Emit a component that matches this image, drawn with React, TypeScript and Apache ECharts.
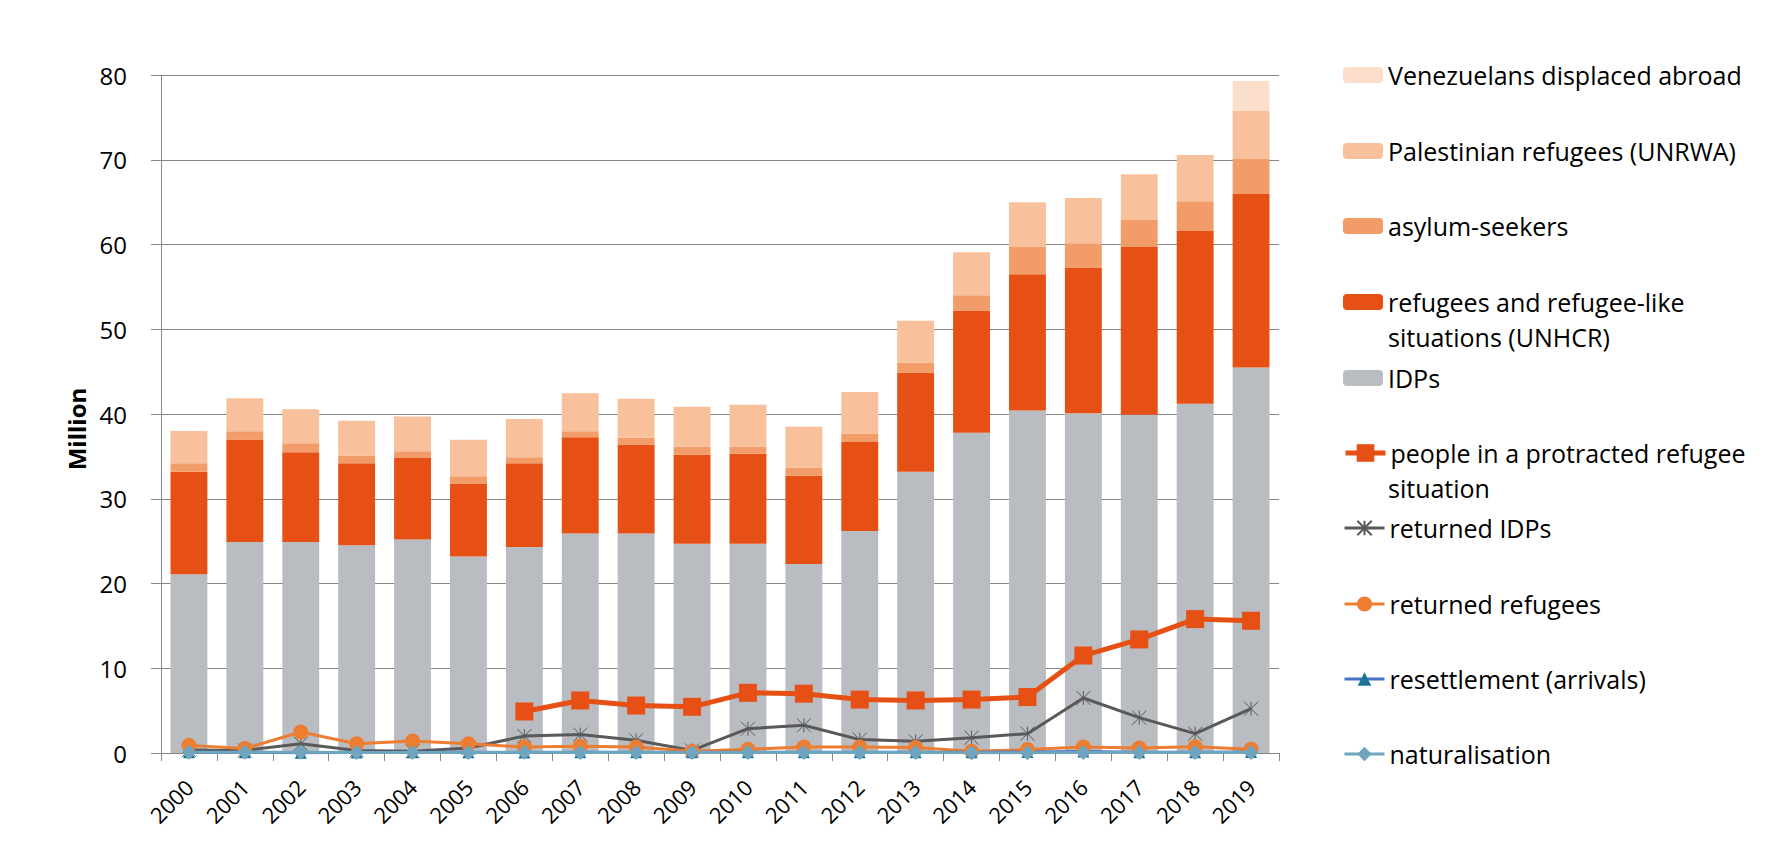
import React, { useEffect, useRef } from "react";
import * as echarts from "echarts";

const years = ["2000","2001","2002","2003","2004","2005","2006","2007","2008","2009","2010","2011","2012","2013","2014","2015","2016","2017","2018","2019"];
const yTicks = [0, 10, 20, 30, 40, 50, 60, 70, 80];

const idps = [21.1, 24.9, 24.9, 24.5, 25.2, 23.2, 24.3, 25.9, 25.9, 24.7, 24.7, 22.3, 26.2, 33.2, 37.8, 40.4, 40.1, 39.9, 41.2, 45.5];
const refugeesUnhcr = [12.1, 12.1, 10.6, 9.7, 9.6, 8.6, 9.9, 11.35, 10.5, 10.5, 10.6, 10.4, 10.5, 11.7, 14.4, 16.1, 17.2, 19.8, 20.4, 20.45];
const asylum = [1.0, 0.95, 1.06, 0.9, 0.8, 0.85, 0.7, 0.7, 0.8, 0.95, 0.85, 0.95, 0.95, 1.15, 1.8, 3.2, 2.85, 3.2, 3.5, 4.15];
const palestinian = [3.8, 3.9, 4.0, 4.1, 4.1, 4.3, 4.5, 4.5, 4.6, 4.7, 4.95, 4.85, 4.95, 4.95, 5.1, 5.3, 5.35, 5.4, 5.45, 5.65];
const venezuelans = [null, null, null, null, null, null, null, null, null, null, null, null, null, null, null, null, null, null, null, 3.55];

const protracted = [null, null, null, null, null, null, 4.9, 6.2, 5.6, 5.45, 7.1, 7.0, 6.3, 6.2, 6.3, 6.6, 11.5, 13.4, 15.8, 15.6];
const returnedIdps = [0.35, 0.3, 1.1, 0.3, 0.2, 0.6, 2.0, 2.17, 1.5, 0.3, 2.87, 3.27, 1.58, 1.38, 1.81, 2.28, 6.49, 4.17, 2.28, 5.23];
const returnedRefugees = [0.9, 0.52, 2.48, 1.1, 1.42, 1.1, 0.71, 0.79, 0.7, 0.2, 0.44, 0.71, 0.71, 0.65, 0.2, 0.4, 0.7, 0.6, 0.75, 0.44];
const resettlement = [0.1, 0.09, 0.04, 0.06, 0.08, 0.08, 0.07, 0.08, 0.09, 0.08, 0.1, 0.08, 0.09, 0.1, 0.1, 0.11, 0.19, 0.1, 0.09, 0.11];
const naturalisation = [0.08, 0.1, 0.08, 0.05, 0.06, 0.06, 0.1, 0.06, 0.06, 0.06, 0.07, 0.06, 0.07, 0.05, 0.03, 0.03, 0.06, 0.07, 0.06, 0.05];

const FONT = "'Open Sans', 'Noto Sans', sans-serif";
const starPath = "path://M50,0 L50,100 M0,0 L100,100 M0,100 L100,0";

export default function App() {
  const ref = useRef<HTMLDivElement>(null);
  useEffect(() => {
    if (!ref.current) return;
    const chart = echarts.init(ref.current, undefined, { renderer: "svg" });

    const legendDefs: { name: string; label: string; center: number; lw?: number; ih?: number }[] = [
      { name: "Venezuelans displaced abroad", label: "Venezuelans displaced abroad", center: 75 },
      { name: "Palestinian refugees (UNRWA)", label: "Palestinian refugees (UNRWA)", center: 151 },
      { name: "asylum-seekers", label: "asylum-seekers", center: 226 },
      { name: "refugees and refugee-like situations (UNHCR)", label: "refugees and refugee-like", center: 302 },
      { name: "IDPs", label: "IDPs", center: 378 },
      { name: "people in a protracted refugee situation", label: "people in a protracted refugee", center: 453, lw: 5, ih: 22 },
      { name: "returned IDPs", label: "returned IDPs", center: 528, lw: 3, ih: 18 },
      { name: "returned refugees", label: "returned refugees", center: 604, lw: 3, ih: 19 },
      { name: "resettlement (arrivals)", label: "resettlement (arrivals)", center: 679, lw: 3, ih: 17 },
      { name: "naturalisation", label: "naturalisation", center: 754, lw: 3, ih: 18 },
    ];

    const legends = legendDefs.map((d) => {
      const l: any = {
        show: true,
        orient: "vertical",
        left: 1343,
        top: d.center - 16,
        padding: 0,
        itemWidth: 40,
        itemHeight: d.ih || 16,
        itemGap: 0,
        selectedMode: false,
        data: [d.name],
        formatter: () => d.label,
        textStyle: { fontFamily: FONT, fontSize: 25, color: "#000", lineHeight: 32, padding: [0, 0, 0, 0] },
      };
      if (d.lw) l.lineStyle = { width: d.lw };
      return l;
    });

    const barBase = { type: "bar", stack: "total", barWidth: "66%" };

    const option: any = {
      animation: false,
      backgroundColor: "#fff",
      textStyle: { fontFamily: FONT },
      legend: legends,
      grid: { left: 161, right: 492, top: 75, bottom: 90, containLabel: false },
      xAxis: {
        type: "category",
        data: years,
        axisLine: { lineStyle: { color: "#868686", width: 1 } },
        axisTick: { show: true, length: 8, lineStyle: { color: "#868686" }, alignWithLabel: false },
        axisLabel: { rotate: 45, fontSize: 22, color: "#000", fontFamily: FONT, margin: 30, interval: 0 },
      },
      yAxis: {
        type: "value",
        min: yTicks[0],
        max: yTicks[yTicks.length - 1],
        interval: 10,
        name: "Million",
        nameLocation: "middle",
        nameGap: 72,
        nameTextStyle: { fontFamily: FONT, fontSize: 24, fontWeight: "bold", color: "#000", padding: [0, 0, 0, -30] },
        axisLine: { show: true, lineStyle: { color: "#868686", width: 1 } },
        axisTick: { show: true, length: 10, lineStyle: { color: "#868686" } },
        axisLabel: { fontSize: 24, color: "#000", fontFamily: FONT, margin: 34 },
        splitLine: { show: true, lineStyle: { color: "#868686", width: 1 } },
      },
      graphic: [
        { type: "text", left: 1388, top: 337 - 16, style: { text: "situations (UNHCR)", font: `25px ${FONT}`, fill: "#000", lineHeight: 32 } },
        { type: "text", left: 1388, top: 488 - 16, style: { text: "situation", font: `25px ${FONT}`, fill: "#000", lineHeight: 32 } },
      ],
      series: [
        { ...barBase, name: "IDPs", data: idps, itemStyle: { color: "#B9BDC1" } },
        { ...barBase, name: "refugees and refugee-like situations (UNHCR)", data: refugeesUnhcr, itemStyle: { color: "#E65014" } },
        { ...barBase, name: "asylum-seekers", data: asylum, itemStyle: { color: "#F29D69" } },
        { ...barBase, name: "Palestinian refugees (UNRWA)", data: palestinian, itemStyle: { color: "#F8C09B" } },
        { ...barBase, name: "Venezuelans displaced abroad", data: venezuelans, itemStyle: { color: "#FCDFCB" } },
        {
          type: "line", name: "people in a protracted refugee situation", data: protracted,
          symbol: "rect", symbolSize: 18, lineStyle: { color: "#E65014", width: 5 },
          itemStyle: { color: "#E65014" }, z: 5,
        },
        {
          type: "line", name: "returned IDPs", data: returnedIdps,
          symbol: starPath, symbolSize: 14, lineStyle: { color: "#595959", width: 3 },
          itemStyle: { color: "#595959", borderColor: "#595959", borderWidth: 1 }, z: 4,
        },
        {
          type: "line", name: "returned refugees", data: returnedRefugees,
          symbol: "circle", symbolSize: 15, lineStyle: { color: "#ED7D31", width: 3 },
          itemStyle: { color: "#ED7D31" }, z: 4,
        },
        {
          type: "line", name: "resettlement (arrivals)", data: resettlement,
          symbol: "triangle", symbolSize: 12, lineStyle: { color: "#4472C4", width: 3 },
          itemStyle: { color: "#1A7394" }, z: 4,
        },
        {
          type: "line", name: "naturalisation", data: naturalisation,
          symbol: "diamond", symbolSize: 15, lineStyle: { color: "#6FA5BF", width: 3 },
          itemStyle: { color: "#6FA5BF" }, z: 4,
        },
      ],
    };

    chart.setOption(option);
    return () => chart.dispose();
  }, []);

  return <div ref={ref} style={{ position: "fixed", left: 0, top: 0, width: 1771, height: 843 }} />;
}
